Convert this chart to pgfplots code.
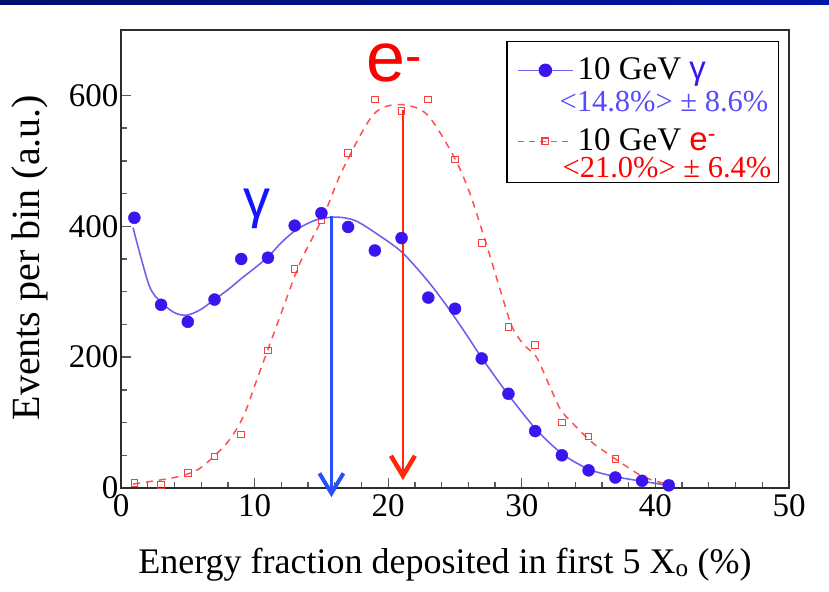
\documentclass[border=0pt]{standalone}
\usepackage{fontspec}
\setmainfont{Liberation Serif}
\setsansfont{Liberation Sans}
\usepackage{pgfplots}
\pgfplotsset{compat=1.18}
\usetikzlibrary{arrows.meta}
\definecolor{gpt}{RGB}{60,20,240}
\definecolor{gline}{RGB}{110,100,235}
\definecolor{gtxt}{RGB}{85,75,250}
\definecolor{glab}{RGB}{20,20,255}
\definecolor{barrow}{RGB}{40,80,255}
\definecolor{ept}{RGB}{255,60,60}
\definecolor{eline}{RGB}{255,80,80}
\definecolor{earrow}{RGB}{255,40,10}
\definecolor{elab}{RGB}{255,0,0}
\definecolor{frm}{RGB}{45,45,45}
\begin{document}
\begin{tikzpicture}[x=1pt,y=1pt]
\path[use as bounding box] (0,0) rectangle (829,591);
\shade[left color={rgb,255:red,0;green,14;blue,110}, right color={rgb,255:red,0;green,22;blue,165}] (0,586) rectangle (829,591);
\begin{axis}[
  at={(121pt,103pt)}, anchor=south west,
  scale only axis, width=668pt, height=458pt,
  xmin=0, xmax=50, ymin=0, ymax=700,
  clip=false,
  axis line style={frm, line width=1.6pt},
  xtick={0,10,...,50}, ytick={0,200,...,600},
  minor x tick num=4, minor y tick num=3,
  tick pos=left, tick align=inside,
  major tick length=10pt, minor tick length=6pt,
  every tick/.style={black!65, line width=1.3pt},
  /pgf/number format/assume math mode=true,
  ticklabel style={font=\fontsize{33}{40}\selectfont},
  xticklabel style={yshift=-3pt},
  yticklabel style={xshift=1pt},
  xlabel={Energy fraction deposited in first 5 X\textsubscript{o} (\%)},
  xlabel style={font=\fontsize{36}{42}\selectfont, at={(axis description cs:0.485,0)}, anchor=base, yshift=-85pt},
  ylabel={Events per bin (a.u.)},
  ylabel style={font=\fontsize{40}{46}\selectfont, at={(axis description cs:0,0.503)}, anchor=base, yshift=81pt},
  legend image code/.code={\path (0pt,0pt) (69pt,9pt); \draw[#1, mark repeat=2, mark phase=2] plot coordinates {(10pt,9pt) (37.5pt,9pt) (65pt,9pt)};},
  legend style={at={(axis description cs:0.985,0.9767)}, anchor=north east, draw=black, line width=1.3pt, fill=white,
    inner xsep=0pt, inner ysep=3pt, row sep=0pt, column sep=0pt,
    nodes={inner sep=0pt}, cells={anchor=base west},
    font=\fontsize{30.5}{36}\selectfont},
]
\addplot[forget plot, eline, line width=1.5pt, dash pattern=on 7pt off 6pt, smooth] coordinates {
(0.9,6) (2.2,10) (4.2,17) (5.9,30) (7.9,68) (9.15,109) (10.16,165) (11.9,262) (13.4,344) (15.14,415) (16.6,487) (18.9,571) (20.9,586) (22.9,571) (24.9,507) (26.1,451) (27.4,369) (28.5,295) (29.3,245) (30.2,218) (31.1,200) (32.1,155) (32.9,120) (33.8,99) (35.3,69) (36.4,53) (37.9,32) (39.1,17) (40.3,9) (41.2,5)};
\addplot[forget plot, gline, line width=1.6pt, smooth] coordinates {
(0.9,398) (2.1,310) (3,284) (4,268) (4.9,264) (5.9,272) (7,288) (8,303) (9,320) (10,336) (11,353) (12,375) (13.15,395) (14.65,410) (16.2,414) (17.6,408) (19.4,385) (21.1,359) (23.1,313) (24.6,272) (26,230) (27,199) (28.9,145) (31.1,89) (33.1,51) (35.1,28) (37.1,17) (39.1,10) (41,4)};
\addplot[forget plot, only marks, mark=square, mark size=3.3pt, ept, line width=1pt] coordinates {
(1,8) (3,4.6) (5,23) (7,48) (9,82) (11,210) (13,335) (15,410) (17,512) (19,594) (21,576) (23,594) (25,502) (27,374) (29,246) (31,219) (33,100) (35,79) (37,44) (39,12) (41,7)};
\addplot[forget plot, only marks, mark=*, mark size=6pt, gpt] coordinates {
(1,413) (3,280) (5,254) (7,288) (9,350) (11,352) (13,401) (15,420) (17,399) (19,363) (21,382) (23,291) (25,274) (27,198) (29,144) (31,87) (33,50) (35,27) (37,16) (39,11) (41,4)};
\draw[barrow, line width=2.2pt, -{Straight Barb[length=20pt, width=24pt, line width=4pt]}] (axis cs:15.75,416) -- (axis cs:15.75,-14);
\draw[earrow, line width=2.6pt, -{Straight Barb[length=20pt, width=24pt, line width=4.5pt]}] (axis cs:21.1,578) -- (axis cs:21.1,12);
\node[anchor=base west, font=\sffamily\fontsize{70}{70}\selectfont, text=elab, inner sep=0pt] at (axis cs:18.35,621) {e\textsuperscript{-}};
\node[anchor=base, font=\sffamily\fontsize{54}{54}\selectfont, text=glab, inner sep=0pt] at (axis cs:10.2,413) {γ};
\addlegendimage{gline, line width=1.5pt, mark=*, mark size=6pt, mark options={solid, fill=gpt, draw=gpt}}
\addlegendentry{\rule[-9pt]{0pt}{44pt}\fontsize{33}{38}\selectfont 10 GeV \textcolor{gpt}{\sffamily γ}}
\addlegendimage{empty legend}
\addlegendentry{\rule[-9pt]{0pt}{40pt}\hspace*{-18pt}\textcolor{gtxt}{<14.8\%> ± 8.6\%}\hspace*{10pt}}
\addlegendimage{eline, line width=1.3pt, dash pattern=on 6pt off 5pt, mark=square, mark size=3.3pt, mark options={solid, draw=ept}}
\addlegendentry{\rule[-6pt]{0pt}{43pt}\fontsize{33}{38}\selectfont 10 GeV \textcolor{elab}{\sffamily e\textsuperscript{-}}}
\addlegendimage{empty legend}
\addlegendentry{\rule[-9pt]{0pt}{35pt}\hspace*{-15pt}\textcolor{elab}{<21.0\%> ± 6.4\%}}
\end{axis}
\end{tikzpicture}
\end{document}
